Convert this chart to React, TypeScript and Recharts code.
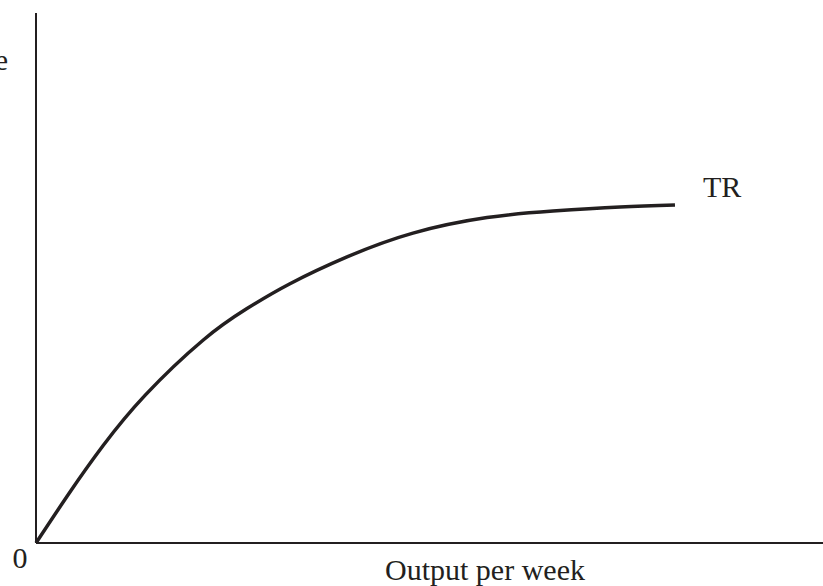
import { LineChart, Line, XAxis, YAxis, ReferenceLine, Customized } from "recharts";

// Total revenue curve (output 0-100, revenue 0-100)
const OUTPUT = [0, 4.32, 8.51, 13.85, 21.22, 26.81, 32.27, 39.52, 47.9, 57.31, 65.69, 74.21, 81.19];
const REVENUE = [0, 9.62, 18.34, 27.85, 38.26, 44.23, 48.92, 53.98, 58.47, 61.4, 62.64, 63.4, 63.77];

const data = OUTPUT.map((q, i) => ({ q, tr: REVENUE[i] }));

const INK = "#231f20";
const FONT = "'Liberation Serif', 'Times New Roman', serif";

function Labels() {
  return (
    <g fontFamily={FONT} fontSize={30} fill={INK}>
      <text x={8} y={70} textAnchor="end">Revenue</text>
      <text x={20} y={568} textAnchor="middle">0</text>
      <text x={485} y={580} textAnchor="middle">Output per week</text>
      <text x={703} y={197}>TR</text>
    </g>
  );
}

export default function App() {
  return (
    <div style={{ position: "absolute", left: 0, top: 0, background: "#fff" }}>
      <LineChart
        width={823}
        height={586}
        data={data}
        margin={{ top: 13, right: 0, left: 36, bottom: 43 }}
      >
        <XAxis type="number" dataKey="q" domain={[0, 100]} hide />
        <YAxis type="number" domain={[0, 100]} hide />
        <ReferenceLine x={0} stroke={INK} strokeWidth={2} />
        <ReferenceLine y={0} stroke={INK} strokeWidth={2} />
        <Line
          type="natural"
          dataKey="tr"
          stroke={INK}
          strokeWidth={3.5}
          dot={false}
          isAnimationActive={false}
        />
        <Customized component={Labels} />
      </LineChart>
    </div>
  );
}
